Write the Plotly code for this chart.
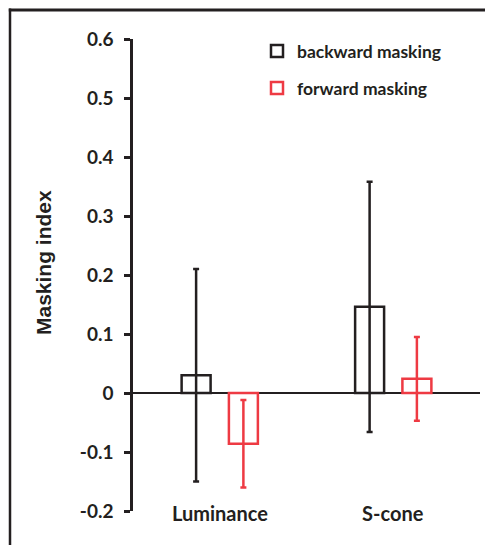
import plotly.graph_objects as go

categories = ["Luminance", "S-cone"]
backward_vals = [0.03, 0.146]
backward_err = [0.18, 0.212]
forward_vals = [-0.086, 0.024]
forward_err = [0.074, 0.071]
series_names = ["backward masking", "forward masking"]
ytick_vals = [-0.2, -0.1, 0, 0.1, 0.2, 0.3, 0.4, 0.5, 0.6]
ytick_text = ["-0.2", "-0.1", "0", "0.1", "0.2", "0.3", "0.4", "0.5", "0.6"]

BLACK = "#231f20"
RED = "#ee3a43"
FONT = "Lato, 'Open Sans', sans-serif"

W, H = 493, 545
OFF = 8  # page body margin
# plot area in page pixels
PX0, PX1, PY0, PY1 = 133, 480, 39, 511
L = PX0 - OFF
T = PY0 - OFF
R = W - (PX1 - OFF)
B = H - (PY1 - OFF)
pw, ph = PX1 - PX0, PY1 - PY0


def px(x):
    return (x - PX0) / pw


def py(y):
    return (PY1 - y) / ph


fig = go.Figure()
fig.add_trace(go.Bar(
    x=categories, y=backward_vals, name="<b>%s</b>" % series_names[0],
    marker=dict(color="rgba(255,255,255,0)", line=dict(color=BLACK, width=2.5)),
    error_y=dict(type="data", array=backward_err, color=BLACK, thickness=2.5, width=3),
    legend="legend", showlegend=True,
))
fig.add_trace(go.Bar(
    x=categories, y=forward_vals, name="<b>%s</b>" % series_names[1],
    marker=dict(color="rgba(255,255,255,0)", line=dict(color=RED, width=2.5)),
    error_y=dict(type="data", array=forward_err, color=RED, thickness=2.5, width=3),
    legend="legend2", showlegend=True,
))

annotations = []
for c in categories:
    annotations.append(dict(
        x=c, xref="x", y=py(513), yref="paper",
        text="<b>%s</b>" % c, showarrow=False, xanchor="center", yanchor="middle",
        font=dict(family=FONT, size=20, color=BLACK),
    ))
annotations.append(dict(
    x=px(44), xref="paper", y=py(263), yref="paper",
    text="<b>Masking index</b>", textangle=-90, showarrow=False,
    xanchor="center", yanchor="middle",
    font=dict(family="Liberation Sans", size=21, color=BLACK, weight="bold"),
))

legend_common = dict(xanchor="left", yanchor="middle", bgcolor="rgba(0,0,0,0)",
                     font=dict(family=FONT, size=17.5, color=BLACK), itemwidth=30)

fig.update_layout(
    width=W, height=H,
    margin=dict(l=L, r=R, t=T, b=B, pad=0),
    paper_bgcolor="white", plot_bgcolor="white",
    barmode="group", bargap=0.455, bargroupgap=0.387,
    showlegend=True,
    font=dict(family=FONT, color=BLACK),
    xaxis=dict(range=[-0.5, 1.5], showticklabels=False, showgrid=False,
               showline=False, ticks="", zeroline=False),
    yaxis=dict(range=[-0.2, 0.6], tickvals=ytick_vals, ticktext=["<b>%s</b>" % t for t in ytick_text],
               ticks="outside", ticklen=6, tickwidth=2.5, tickcolor=BLACK,
               showline=True, linecolor=BLACK, linewidth=2.5,
               showgrid=False, zeroline=True, zerolinecolor=BLACK, zerolinewidth=2,
               tickfont=dict(family=FONT, size=19, color=BLACK), ticklabelstandoff=7),
    legend=dict(x=px(257), y=py(51), **legend_common),
    legend2=dict(x=px(257), y=py(88), **legend_common),
    annotations=annotations,
    shapes=[
        dict(type="line", xref="paper", yref="paper",
             x0=px(10), x1=px(10), y0=py(570), y1=py(8.5),
             line=dict(color=BLACK, width=2.5)),
        dict(type="line", xref="paper", yref="paper",
             x0=px(8.8), x1=px(520), y0=py(10), y1=py(10),
             line=dict(color=BLACK, width=3)),
    ],
)

fig.write_html("out.html")
